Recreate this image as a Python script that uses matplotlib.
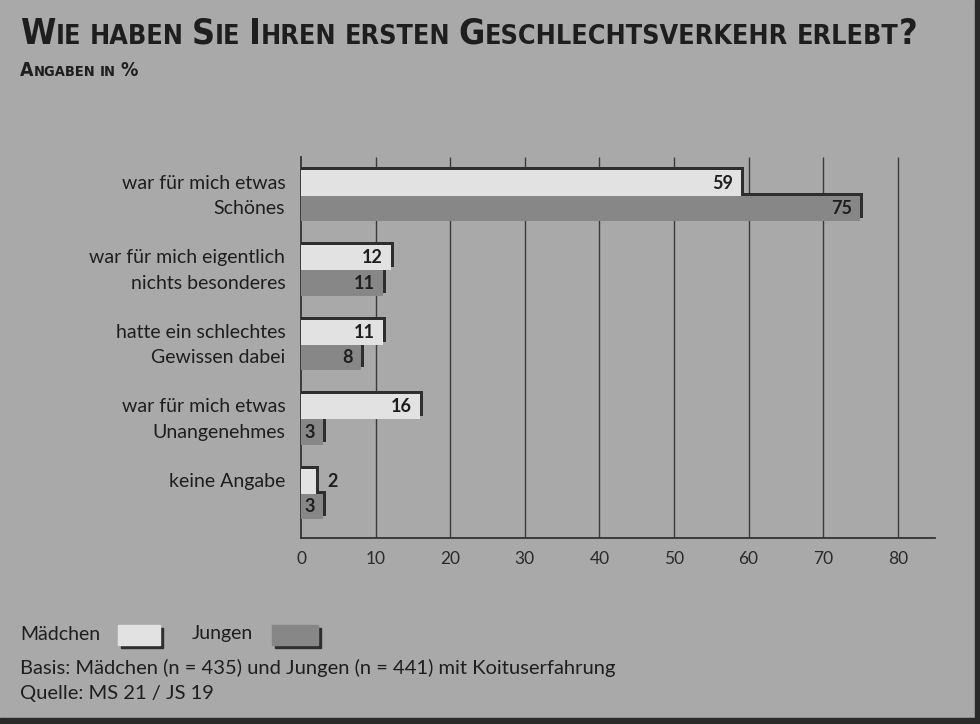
import matplotlib
matplotlib.use('Agg')
import matplotlib.pyplot as plt
from matplotlib.patches import Rectangle
from matplotlib import font_manager as fm

# ---------------- data ----------------
categories = [
    ["war für mich etwas", "Schönes"],
    ["war für mich eigentlich", "nichts besonderes"],
    ["hatte ein schlechtes", "Gewissen dabei"],
    ["war für mich etwas", "Unangenehmes"],
    ["keine Angabe"],
]
maedchen = [59, 12, 11, 16, 2]
jungen = [75, 11, 8, 3, 3]
xticks = [0, 10, 20, 30, 40, 50, 60, 70, 80]
series_names = ["Mädchen", "Jungen"]
title = "Wie haben Sie Ihren ersten Geschlechtsverkehr erlebt?"
subtitle = "Angaben in %"
note1 = "Basis: Mädchen (n = 435) und Jungen (n = 441) mit Koituserfahrung"
note2 = "Quelle: MS 21 / JS 19"

# ---------------- style ----------------
W, H = 980, 724
BG = '#a9a9a9'
LIGHT = '#e2e2e2'
DARKBAR = '#878787'
SHADOW = '#2e2e2e'
TXT = '#1e1e1e'


def pick(cands):
    for c in cands:
        try:
            fm.findfont(fm.FontProperties(family=c), fallback_to_default=False)
            return c
        except Exception:
            pass
    return 'DejaVu Sans'


BODY = pick(['Lato', 'Open Sans', 'Noto Sans'])
plt.rcParams['font.family'] = [BODY, 'DejaVu Sans']

# condensed bold font for the headline, if one is installed
HEADFP = None
cands = []
for f in fm.fontManager.ttflist:
    fn = f.fname.lower()
    if ('narrow' in fn or 'condensed' in fn) and ('bold' in fn) and 'oblique' not in fn \
            and 'italic' not in fn:
        cands.append(f.fname)
cands.sort(key=lambda s: (0 if 'liberationsansnarrow' in s.lower() else
                          1 if 'dejavusanscondensed' in s.lower() else 2, s))
if cands:
    HEADFP = dict(fname=cands[0])


def headprops(size):
    if HEADFP:
        return fm.FontProperties(fname=HEADFP['fname'], size=size)
    return fm.FontProperties(family=BODY, weight='heavy', size=size)


fig = plt.figure(figsize=(W / 100, H / 100), dpi=100, facecolor=BG)


def fx(px):
    return px / W


def fy(py):
    return (H - py) / H


# ---------------- axes ----------------
ax = fig.add_axes([fx(301), fy(538), (935 - 301) / W, (538 - 157) / H])
ax.set_facecolor('none')
ax.set_xlim(0, 85)
ax.set_ylim(4.59, -0.52)

ppx = (935 - 301) / 85.0
ppy = 75.0
dx = 3.0 / ppx
dy = 3.0 / ppy
h = 0.34

for i, v in enumerate(jungen):
    yc = i + h / 2
    ax.barh(yc - dy, v + dx, height=h, left=0, color=SHADOW, zorder=2)
    ax.barh(yc, v, height=h, left=0, color=DARKBAR, zorder=3)
for i, v in enumerate(maedchen):
    yc = i - h / 2
    ax.barh(yc - dy, v + dx, height=h, left=0, color=SHADOW, zorder=4)
    ax.barh(yc, v, height=h, left=0, color=LIGHT, zorder=5)

# value labels
for i, (m, j) in enumerate(zip(maedchen, jungen)):
    for v, yc in ((m, i - h / 2), (j, i + h / 2)):
        if v >= 3:
            ax.text(v - 1.1, yc, str(v), ha='right', va='center', fontsize=13,
                    fontweight='bold', color=TXT, zorder=6)
        else:
            ax.text(v + 1.5, yc, str(v), ha='left', va='center', fontsize=13,
                    fontweight='bold', color=TXT, zorder=6)

# category labels
for i, lines in enumerate(categories):
    ys = [i - h / 2, i + h / 2][:len(lines)]
    for t, yy in zip(lines, ys):
        ax.text(-2.1, yy, t, ha='right', va='center', fontsize=14, color=TXT,
                clip_on=False)

# grid
ax.vlines(xticks[1:], 4.59, -0.52, colors='#3a3a3a', lw=1.0, zorder=1)
for s in ('top', 'right'):
    ax.spines[s].set_visible(False)
for s in ('left', 'bottom'):
    ax.spines[s].set_color('#333333')
    ax.spines[s].set_linewidth(1.3)
ax.set_xticks(xticks)
ax.set_xticklabels([str(t) for t in xticks], fontsize=12.5, color='#2a2a2a')
ax.tick_params(axis='x', length=0, pad=9)
ax.set_yticks([])

# ---------------- small caps title ----------------
renderer = fig.canvas.get_renderer()


def runs_of(word):
    out = []
    for ch in word:
        big = not ch.islower()
        if out and out[-1][1] == big:
            out[-1][0] += ch.upper()
        else:
            out.append([ch.upper(), big])
    return out


def small_caps(text, x_px, y_px, big, small, draw=True):
    x = x_px
    sp_a = fig.text(0, 0, 'X X', fontproperties=headprops(small))
    sp_b = fig.text(0, 0, 'XX', fontproperties=headprops(small))
    space = sp_a.get_window_extent(renderer).width - sp_b.get_window_extent(renderer).width
    sp_a.remove(); sp_b.remove()
    words = text.split(' ')
    for k, w in enumerate(words):
        for s, isbig in runs_of(w):
            t = fig.text(fx(x), fy(y_px), s, fontproperties=headprops(big if isbig else small),
                         color=TXT, va='baseline')
            x += t.get_window_extent(renderer).width
            if not draw:
                t.remove()
        if k < len(words) - 1:
            x += space
    return x - x_px


w0 = small_caps(title, 20, 44, 24, 18, draw=False)
sc = 895.0 / w0
small_caps(title, 20, 44, 24 * sc, 18 * sc)
w1 = small_caps(subtitle, 20, 76, 14, 10.5, draw=False)
sc1 = 118.0 / w1
small_caps(subtitle, 20, 76, 14 * sc1, 10.5 * sc1)

# ---------------- legend & notes ----------------
fig.text(fx(20), fy(634), series_names[0], fontsize=14, color=TXT, va='center')
fig.text(fx(192), fy(634), series_names[1], fontsize=14, color=TXT, va='center')
for (x0, x1, col) in ((118, 160, LIGHT), (272, 318, DARKBAR)):
    fig.patches.append(Rectangle((fx(x0 + 3), fy(648)), fx(x1 - x0), (645 - 625) / H,
                                 transform=fig.transFigure, color=SHADOW))
    fig.patches.append(Rectangle((fx(x0), fy(645)), fx(x1 - x0), (645 - 625) / H,
                                 transform=fig.transFigure, color=col))

fig.text(fx(20), fy(668), note1, fontsize=14.5, color=TXT, va='center')
fig.text(fx(20), fy(693), note2, fontsize=14.5, color=TXT, va='center')

# frame edges
fig.patches.append(Rectangle((fx(975), 0), fx(5), 1, transform=fig.transFigure, color='#2a2a2a'))
fig.patches.append(Rectangle((0, 0), 1, 6 / H, transform=fig.transFigure, color='#2a2a2a'))

fig.savefig('out.png', dpi=100, facecolor=BG)
